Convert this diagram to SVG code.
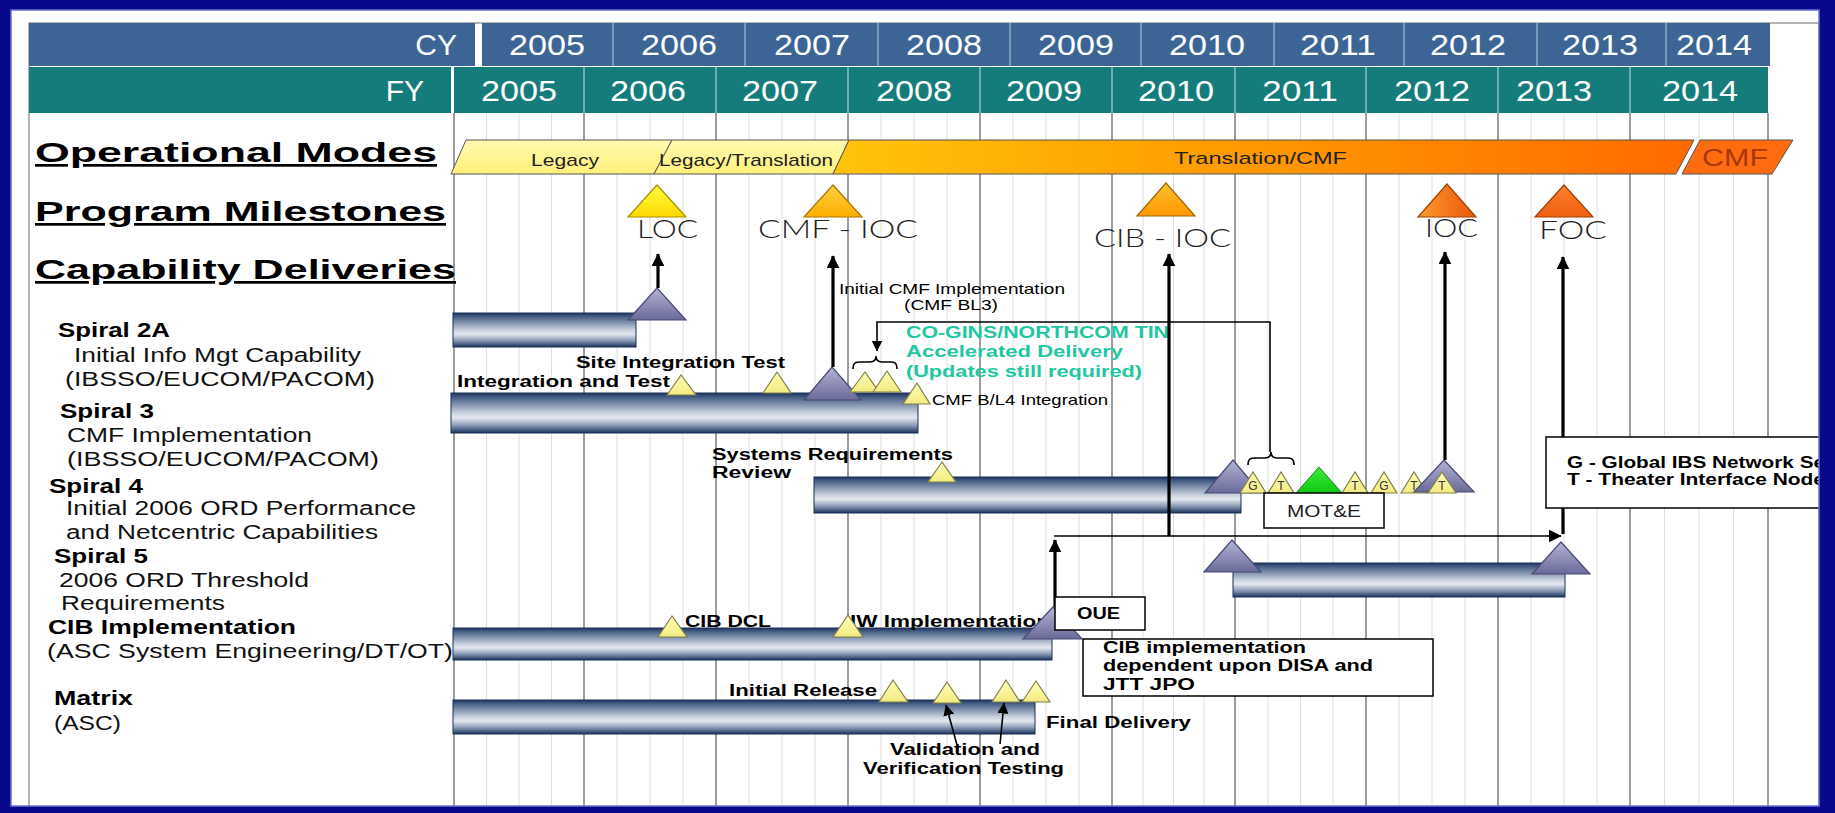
<svg xmlns="http://www.w3.org/2000/svg" width="1835" height="813" viewBox="0 0 1835 813">
<defs>
<style>
text{font-family:"Liberation Sans",Arial,Helvetica,sans-serif;}
.hl{fill:#fff;font-size:30px;text-anchor:end}
.yr{fill:#fff;font-size:30px;text-anchor:middle}
.main{font-size:27px;font-weight:bold;text-decoration:underline;fill:#000}
.spb{font-size:20px;font-weight:bold;fill:#000}
.spr{font-size:20px;fill:#111}
.band{font-size:17px;fill:#222}
.ms{font-family:Lato,"Liberation Sans",sans-serif;font-weight:300;font-size:26px;fill:#222}
.ab{font-size:16px;font-weight:bold;fill:#000}
.ar{font-size:15px;fill:#000}
.gr{font-size:16px;font-weight:bold;fill:#22C7A2}
.gl{font-size:12px;fill:#333;text-anchor:middle}
.minor{stroke:#dedede;stroke-width:1}
.major{stroke:#858585;stroke-width:1.6}
.bar{fill:url(#barG);stroke:#1B3056;stroke-width:1}
.pt{fill:url(#purG);stroke:#4B4B78;stroke-width:1.2}
.yt{fill:url(#yelG);stroke:#80804A;stroke-width:1.2}
.box{fill:#fff;stroke:#000;stroke-width:1.5}
.cn{stroke:#000;stroke-width:3.2;fill:none}
.cnt{stroke:#000;stroke-width:1.6;fill:none}
.sepc{stroke:#8FA9C8;stroke-width:1.5}
.sepf{stroke:#8CC0BE;stroke-width:1.5}
</style>
<linearGradient id="barG" x1="0" y1="0" x2="0" y2="1">
<stop offset="0" stop-color="#1D3561"/>
<stop offset="0.12" stop-color="#4A6288"/>
<stop offset="0.5" stop-color="#C9D1DE"/>
<stop offset="0.62" stop-color="#E4E8EF"/>
<stop offset="0.82" stop-color="#8596B2"/>
<stop offset="1" stop-color="#1B325C"/>
</linearGradient>
<linearGradient id="purG" x1="0" y1="0" x2="0" y2="1">
<stop offset="0" stop-color="#B4B4D4"/>
<stop offset="1" stop-color="#6A6A9A"/>
</linearGradient>
<linearGradient id="yelG" x1="0" y1="0" x2="0" y2="1">
<stop offset="0" stop-color="#FFFFB8"/>
<stop offset="1" stop-color="#F2EA80"/>
</linearGradient>
<linearGradient id="grnG" x1="0" y1="0" x2="0" y2="1">
<stop offset="0" stop-color="#3CEB3C"/>
<stop offset="1" stop-color="#10C810"/>
</linearGradient>
<linearGradient id="legG" x1="0" y1="0" x2="0" y2="1">
<stop offset="0" stop-color="#FFFBB0"/>
<stop offset="1" stop-color="#FFF07A"/>
</linearGradient>
<linearGradient id="tcG" x1="0" y1="0" x2="1" y2="0">
<stop offset="0" stop-color="#FFC40A"/>
<stop offset="0.45" stop-color="#FF9C00"/>
<stop offset="1" stop-color="#FF6A00"/>
</linearGradient>
<linearGradient id="m1" x1="0" y1="0" x2="0" y2="1"><stop offset="0" stop-color="#FFFF40"/><stop offset="1" stop-color="#FFD800"/></linearGradient>
<linearGradient id="m2" x1="0" y1="0" x2="0" y2="1"><stop offset="0" stop-color="#FFD040"/><stop offset="1" stop-color="#FFAE00"/></linearGradient>
<linearGradient id="m3" x1="0" y1="0" x2="0" y2="1"><stop offset="0" stop-color="#FFC030"/><stop offset="1" stop-color="#FF9800"/></linearGradient>
<linearGradient id="m4" x1="0" y1="0" x2="1" y2="0"><stop offset="0" stop-color="#FF9A30"/><stop offset="1" stop-color="#E8560A"/></linearGradient>
<linearGradient id="m5" x1="0" y1="0" x2="0" y2="1"><stop offset="0" stop-color="#FF8030"/><stop offset="1" stop-color="#F06010"/></linearGradient>
<marker id="ah" viewBox="0 0 10 10" refX="9.5" refY="5" markerWidth="13" markerHeight="13" markerUnits="userSpaceOnUse" orient="auto">
<path d="M0,0 L10,5 L0,10 z" fill="#000"/>
</marker>
<marker id="ahs" viewBox="0 0 10 10" refX="9.5" refY="5" markerWidth="11" markerHeight="11" markerUnits="userSpaceOnUse" orient="auto">
<path d="M0,0 L10,5 L0,10 z" fill="#000"/>
</marker>
</defs>

<!-- page and panel -->
<rect x="0" y="0" width="1835" height="813" fill="#fff"/>
<rect x="29" y="23" width="1790" height="785" fill="#fff" stroke="#6d6d6d" stroke-width="1"/>

<!-- year header -->
<g id="header">
<rect x="29" y="23" width="446" height="43" fill="#3C6596"/>
<rect x="482" y="23" width="1288" height="43" fill="#3C6596"/>
<g class="sepc">
<line x1="613" y1="23" x2="613" y2="66"/><line x1="745" y1="23" x2="745" y2="66"/><line x1="878" y1="23" x2="878" y2="66"/>
<line x1="1010" y1="23" x2="1010" y2="66"/><line x1="1141" y1="23" x2="1141" y2="66"/><line x1="1274" y1="23" x2="1274" y2="66"/>
<line x1="1404" y1="23" x2="1404" y2="66"/><line x1="1537" y1="23" x2="1537" y2="66"/><line x1="1666" y1="23" x2="1666" y2="66"/>
</g>
<rect x="29" y="67" width="422" height="46" fill="#147C7B"/>
<rect x="454" y="67" width="1314" height="46" fill="#147C7B"/>
<g class="sepf">
<line x1="584" y1="67" x2="584" y2="113"/><line x1="716" y1="67" x2="716" y2="113"/><line x1="848" y1="67" x2="848" y2="113"/>
<line x1="980" y1="67" x2="980" y2="113"/><line x1="1112" y1="67" x2="1112" y2="113"/><line x1="1235" y1="67" x2="1235" y2="113"/>
<line x1="1366" y1="67" x2="1366" y2="113"/><line x1="1498" y1="67" x2="1498" y2="113"/><line x1="1630" y1="67" x2="1630" y2="113"/>
</g>
<text class="hl" x="457" y="55">CY</text>
<text class="hl" x="424" y="101">FY</text>
<g class="yr">
<text x="547" y="55" textLength="76" lengthAdjust="spacingAndGlyphs">2005</text>
<text x="679" y="55" textLength="76" lengthAdjust="spacingAndGlyphs">2006</text>
<text x="812" y="55" textLength="76" lengthAdjust="spacingAndGlyphs">2007</text>
<text x="944" y="55" textLength="76" lengthAdjust="spacingAndGlyphs">2008</text>
<text x="1076" y="55" textLength="76" lengthAdjust="spacingAndGlyphs">2009</text>
<text x="1207" y="55" textLength="76" lengthAdjust="spacingAndGlyphs">2010</text>
<text x="1338" y="55" textLength="76" lengthAdjust="spacingAndGlyphs">2011</text>
<text x="1468" y="55" textLength="76" lengthAdjust="spacingAndGlyphs">2012</text>
<text x="1600" y="55" textLength="76" lengthAdjust="spacingAndGlyphs">2013</text>
<text x="1714" y="55" textLength="76" lengthAdjust="spacingAndGlyphs">2014</text>
<text x="519" y="101" textLength="76" lengthAdjust="spacingAndGlyphs">2005</text>
<text x="648" y="101" textLength="76" lengthAdjust="spacingAndGlyphs">2006</text>
<text x="780" y="101" textLength="76" lengthAdjust="spacingAndGlyphs">2007</text>
<text x="914" y="101" textLength="76" lengthAdjust="spacingAndGlyphs">2008</text>
<text x="1044" y="101" textLength="76" lengthAdjust="spacingAndGlyphs">2009</text>
<text x="1176" y="101" textLength="76" lengthAdjust="spacingAndGlyphs">2010</text>
<text x="1300" y="101" textLength="76" lengthAdjust="spacingAndGlyphs">2011</text>
<text x="1432" y="101" textLength="76" lengthAdjust="spacingAndGlyphs">2012</text>
<text x="1554" y="101" textLength="76" lengthAdjust="spacingAndGlyphs">2013</text>
<text x="1700" y="101" textLength="76" lengthAdjust="spacingAndGlyphs">2014</text>
</g>
</g>

<!-- quarter and year grid -->
<g id="grid">
<g class="minor">
<line x1="486.5" y1="113" x2="486.5" y2="808"/><line x1="519" y1="113" x2="519" y2="808"/><line x1="551.5" y1="113" x2="551.5" y2="808"/>
<line x1="617" y1="113" x2="617" y2="808"/><line x1="650" y1="113" x2="650" y2="808"/><line x1="683" y1="113" x2="683" y2="808"/>
<line x1="749" y1="113" x2="749" y2="808"/><line x1="782" y1="113" x2="782" y2="808"/><line x1="815" y1="113" x2="815" y2="808"/>
<line x1="881" y1="113" x2="881" y2="808"/><line x1="914" y1="113" x2="914" y2="808"/><line x1="947" y1="113" x2="947" y2="808"/>
<line x1="1013" y1="113" x2="1013" y2="808"/><line x1="1046" y1="113" x2="1046" y2="808"/><line x1="1079" y1="113" x2="1079" y2="808"/>
<line x1="1143" y1="113" x2="1143" y2="808"/><line x1="1173.5" y1="113" x2="1173.5" y2="808"/><line x1="1204" y1="113" x2="1204" y2="808"/>
<line x1="1268" y1="113" x2="1268" y2="808"/><line x1="1300.5" y1="113" x2="1300.5" y2="808"/><line x1="1333" y1="113" x2="1333" y2="808"/>
<line x1="1399" y1="113" x2="1399" y2="808"/><line x1="1432" y1="113" x2="1432" y2="808"/><line x1="1465" y1="113" x2="1465" y2="808"/>
<line x1="1531" y1="113" x2="1531" y2="808"/><line x1="1564" y1="113" x2="1564" y2="808"/><line x1="1597" y1="113" x2="1597" y2="808"/>
<line x1="1664.5" y1="113" x2="1664.5" y2="808"/><line x1="1699" y1="113" x2="1699" y2="808"/><line x1="1733.5" y1="113" x2="1733.5" y2="808"/>
</g>
<g class="major">
<line x1="454" y1="113" x2="454" y2="808"/><line x1="584" y1="113" x2="584" y2="808"/><line x1="716" y1="113" x2="716" y2="808"/>
<line x1="848" y1="113" x2="848" y2="808"/><line x1="980" y1="113" x2="980" y2="808"/><line x1="1112" y1="113" x2="1112" y2="808"/>
<line x1="1235" y1="113" x2="1235" y2="808"/><line x1="1366" y1="113" x2="1366" y2="808"/><line x1="1498" y1="113" x2="1498" y2="808"/>
<line x1="1630" y1="113" x2="1630" y2="808"/><line x1="1768" y1="113" x2="1768" y2="808"/>
</g>
</g>

<!-- row headings -->
<g id="row-labels">
<text class="main" x="35" y="162" textLength="402" lengthAdjust="spacingAndGlyphs">Operational Modes</text>
<text class="main" x="35" y="221" textLength="411" lengthAdjust="spacingAndGlyphs">Program Milestones</text>
<text class="main" x="35" y="279" textLength="421" lengthAdjust="spacingAndGlyphs">Capability Deliveries</text>
<text class="spb" x="58" y="337" textLength="112" lengthAdjust="spacingAndGlyphs">Spiral 2A</text>
<text class="spr" x="74" y="362" textLength="287" lengthAdjust="spacingAndGlyphs">Initial Info Mgt Capability</text>
<text class="spr" x="65" y="386" textLength="310" lengthAdjust="spacingAndGlyphs">(IBSSO/EUCOM/PACOM)</text>
<text class="spb" x="60" y="418" textLength="94" lengthAdjust="spacingAndGlyphs">Spiral 3</text>
<text class="spr" x="67" y="442" textLength="245" lengthAdjust="spacingAndGlyphs">CMF Implementation</text>
<text class="spr" x="67" y="466" textLength="312" lengthAdjust="spacingAndGlyphs">(IBSSO/EUCOM/PACOM)</text>
<text class="spb" x="49" y="493" textLength="94" lengthAdjust="spacingAndGlyphs">Spiral 4</text>
<text class="spr" x="66" y="515" textLength="350" lengthAdjust="spacingAndGlyphs">Initial 2006 ORD Performance</text>
<text class="spr" x="66" y="539" textLength="312" lengthAdjust="spacingAndGlyphs">and Netcentric Capabilities</text>
<text class="spb" x="54" y="563" textLength="94" lengthAdjust="spacingAndGlyphs">Spiral 5</text>
<text class="spr" x="59" y="587" textLength="250" lengthAdjust="spacingAndGlyphs">2006 ORD Threshold</text>
<text class="spr" x="61" y="610" textLength="164" lengthAdjust="spacingAndGlyphs">Requirements</text>
<text class="spb" x="48" y="634" textLength="248" lengthAdjust="spacingAndGlyphs">CIB Implementation</text>
<text class="spr" x="47" y="658" textLength="406" lengthAdjust="spacingAndGlyphs">(ASC System Engineering/DT/OT)</text>
<text class="spb" x="54" y="705" textLength="79" lengthAdjust="spacingAndGlyphs">Matrix</text>
<text class="spr" x="54" y="730" textLength="67" lengthAdjust="spacingAndGlyphs">(ASC)</text>
</g>

<!-- operational modes band -->
<g id="op-modes">
<polygon points="451,174 466,140 672,140 654,174" fill="url(#legG)" stroke="#555" stroke-width="1"/>
<polygon points="654,174 672,140 849,140 833,174" fill="url(#legG)" stroke="#555" stroke-width="1"/>
<polygon points="833,174 849,140 1694,140 1676,174" fill="url(#tcG)" stroke="#555" stroke-width="1"/>
<polygon points="1682,174 1700,140 1793,140 1772,174" fill="#FF6C10" stroke="#555" stroke-width="1"/>
<line x1="1679" y1="174" x2="1697" y2="140" stroke="#fff" stroke-width="2" stroke-dasharray="2 2"/>
<text class="band" x="531" y="166" textLength="68" lengthAdjust="spacingAndGlyphs">Legacy</text>
<text class="band" x="659" y="166" textLength="174" lengthAdjust="spacingAndGlyphs">Legacy/Translation</text>
<text class="band" x="1174" y="164" textLength="173" lengthAdjust="spacingAndGlyphs">Translation/CMF</text>
<text x="1702" y="166" font-size="24" fill="#A8380C" textLength="66" lengthAdjust="spacingAndGlyphs">CMF</text>
</g>

<!-- program milestones -->
<g id="ms-loc">
<polygon points="628,217 657,185 686,217" fill="url(#m1)" stroke="#A89000" stroke-width="1.2"/>
<text class="ms" x="637" y="238" textLength="61" lengthAdjust="spacingAndGlyphs">LOC</text>
</g>
<g id="ms-cmf-ioc">
<polygon points="804,217 833,185 862,217" fill="url(#m2)" stroke="#A87800" stroke-width="1.2"/>
<text class="ms" x="758" y="238" textLength="160" lengthAdjust="spacingAndGlyphs">CMF - IOC</text>
</g>
<g id="ms-cib-ioc">
<polygon points="1137,216 1166,183 1195,216" fill="url(#m3)" stroke="#A06800" stroke-width="1.2"/>
<text class="ms" x="1094" y="247" textLength="137" lengthAdjust="spacingAndGlyphs">CIB - IOC</text>
</g>
<g id="ms-ioc">
<polygon points="1418,217 1447,184 1476,217" fill="url(#m4)" stroke="#A04000" stroke-width="1.2"/>
<text class="ms" x="1425" y="237" textLength="53" lengthAdjust="spacingAndGlyphs">IOC</text>
</g>
<g id="ms-foc">
<polygon points="1535,217 1564,185 1593,217" fill="url(#m5)" stroke="#A04000" stroke-width="1.2"/>
<text class="ms" x="1539" y="239" textLength="68" lengthAdjust="spacingAndGlyphs">FOC</text>
</g>

<!-- Spiral 2A -->
<g id="spiral-2a">
<rect class="bar" x="453" y="313" width="183" height="34"/>
<polygon class="pt" points="628,320 657,288 686,320"/>
</g>

<!-- Spiral 3 -->
<g id="spiral-3">
<rect class="bar" x="451" y="393" width="467" height="40"/>
<text class="ab" x="576" y="368" textLength="209" lengthAdjust="spacingAndGlyphs">Site Integration Test</text>
<text class="ab" x="457" y="387" textLength="213" lengthAdjust="spacingAndGlyphs">Integration and Test</text>
<polygon class="yt" points="667,395 681,375 696,395"/>
<polygon class="yt" points="763,393 777,372 791,393"/>
<polygon class="pt" points="804,400 832,367 861,400"/>
<polygon class="yt" points="850,392 865,372 879,392"/>
<polygon class="yt" points="873,392 887,371 901,392"/>
<polygon class="yt" points="903,404 917,383 930,404"/>
<text class="ar" x="839" y="294" textLength="226" lengthAdjust="spacingAndGlyphs">Initial CMF Implementation</text>
<text class="ar" x="904" y="310" textLength="94" lengthAdjust="spacingAndGlyphs">(CMF BL3)</text>
<text class="ar" x="932" y="405" textLength="176" lengthAdjust="spacingAndGlyphs">CMF B/L4 Integration</text>
<text class="gr" x="906" y="338" textLength="263" lengthAdjust="spacingAndGlyphs">CO-GINS/NORTHCOM TIN</text>
<text class="gr" x="906" y="357" textLength="217" lengthAdjust="spacingAndGlyphs">Accelerated Delivery</text>
<text class="gr" x="906" y="377" textLength="236" lengthAdjust="spacingAndGlyphs">(Updates still required)</text>
</g>

<!-- Spiral 4 -->
<g id="spiral-4">
<rect class="bar" x="814" y="477" width="427" height="36"/>
<text class="ab" x="712" y="460" textLength="241" lengthAdjust="spacingAndGlyphs">Systems Requirements</text>
<text class="ab" x="712" y="478" textLength="79" lengthAdjust="spacingAndGlyphs">Review</text>
<polygon class="yt" points="928,482 942,462 956,482"/>
<polygon class="pt" points="1205,493 1233,460 1261,493"/>
<polygon class="yt" points="1240,493 1253,472 1266,493"/><text class="gl" x="1253" y="490">G</text>
<polygon class="yt" points="1268,493 1281,472 1294,493"/><text class="gl" x="1281" y="490">T</text>
<polygon points="1296,493 1319,467 1342,493" fill="url(#grnG)" stroke="#208020" stroke-width="1"/>
<polygon class="yt" points="1342,493 1355,472 1368,493"/><text class="gl" x="1355" y="490">T</text>
<polygon class="yt" points="1371,493 1384,472 1397,493"/><text class="gl" x="1384" y="490">G</text>
<polygon class="yt" points="1401,493 1414,472 1427,493"/><text class="gl" x="1414" y="490">T</text>
<polygon class="pt" points="1414,492 1444,460 1474,492"/>
<polygon class="yt" points="1428,493 1442,472 1456,493"/><text class="gl" x="1442" y="490">T</text>
</g>

<!-- Spiral 5 -->
<g id="spiral-5">
<rect class="bar" x="1233" y="563" width="332" height="34"/>
<polygon class="pt" points="1204,572 1232,540 1261,572"/>
<polygon class="pt" points="1532,574 1561,542 1590,574"/>
</g>

<!-- CIB implementation -->
<g id="cib">
<rect class="bar" x="453" y="628" width="599" height="32"/>
<text class="ab" x="685" y="627" textLength="86" lengthAdjust="spacingAndGlyphs">CIB DCL</text>
<text class="ab" x="850" y="627" textLength="200" lengthAdjust="spacingAndGlyphs">IW Implementation</text>
<polygon class="yt" points="658,637 672,616 687,637"/>
<polygon class="yt" points="833,637 848,615 863,637"/>
<polygon class="pt" points="1023,639 1053,607 1082,639"/>
</g>

<!-- Matrix -->
<g id="matrix">
<rect class="bar" x="453" y="700" width="582" height="34"/>
<text class="ab" x="729" y="696" textLength="148" lengthAdjust="spacingAndGlyphs">Initial Release</text>
<text class="ab" x="1046" y="728" textLength="145" lengthAdjust="spacingAndGlyphs">Final Delivery</text>
<text class="ab" x="890" y="755" textLength="150" lengthAdjust="spacingAndGlyphs">Validation and</text>
<text class="ab" x="863" y="774" textLength="201" lengthAdjust="spacingAndGlyphs">Verification Testing</text>
<polygon class="yt" points="879,702 893,680 908,702"/>
<polygon class="yt" points="933,703 947,682 961,703"/>
<polygon class="yt" points="992,702 1006,680 1020,702"/>
<polygon class="yt" points="1022,702 1036,681 1050,702"/>
</g>

<!-- connectors -->
<g id="connectors">
<path class="cn" d="M658,288 V254" marker-end="url(#ah)"/>
<path class="cn" d="M833,367 V256" marker-end="url(#ah)"/>
<path class="cn" d="M1169,536 V254" marker-end="url(#ah)"/>
<path class="cn" d="M1445,460 V252" marker-end="url(#ah)"/>
<path class="cn" d="M1563,534 V257" marker-end="url(#ah)"/>
<path class="cnt" d="M1054,536 H1561" stroke-width="2.4" marker-end="url(#ah)"/>
<path class="cn" d="M1055,607 V540" marker-end="url(#ah)"/>
<path class="cnt" d="M1270,452 V322 H877 V351" marker-end="url(#ahs)"/>
<path class="cnt" d="M853,369 C853,363 855,362 861,362 L870,362 C874,362 876,360 876,356 C876,360 878,362 882,362 L890,362 C895,362 897,363 897,369"/>
<path class="cnt" d="M1248,465 C1248,459 1250,458 1256,458 L1265,458 C1269,458 1271,456 1271,452 C1271,456 1273,458 1277,458 L1286,458 C1292,458 1294,459 1294,465"/>
<path class="cnt" d="M957,745 L946,705" stroke-width="2" marker-end="url(#ahs)"/>
<path class="cnt" d="M1000,744 L1004,703" stroke-width="2" marker-end="url(#ahs)"/>
</g>

<!-- callout boxes -->
<g id="mot-e">
<rect class="box" x="1264" y="493" width="120" height="35"/>
<text x="1287" y="517" font-size="16" fill="#222" textLength="74" lengthAdjust="spacingAndGlyphs">MOT&amp;E</text>
</g>
<g id="oue">
<rect class="box" x="1055" y="597" width="90" height="33"/>
<text class="ab" x="1077" y="619" font-size="17" textLength="43" lengthAdjust="spacingAndGlyphs">OUE</text>
</g>
<g id="cib-note">
<rect class="box" x="1083" y="639" width="350" height="57"/>
<text class="ab" x="1103" y="653" textLength="203" lengthAdjust="spacingAndGlyphs">CIB implementation</text>
<text class="ab" x="1103" y="671" textLength="270" lengthAdjust="spacingAndGlyphs">dependent upon DISA and</text>
<text class="ab" x="1103" y="690" textLength="92" lengthAdjust="spacingAndGlyphs">JTT JPO</text>
</g>
<g id="legend">
<rect class="box" x="1546" y="437" width="300" height="71"/>
<text class="ab" x="1567" y="468" textLength="258" lengthAdjust="spacingAndGlyphs">G - Global IBS Network Se</text>
<text class="ab" x="1567" y="485" textLength="258" lengthAdjust="spacingAndGlyphs">T - Theater Interface Node</text>
</g>

<!-- outer frame -->
<path d="M0,0 H1835 V813 H0 Z M11,10 V806 H1819 V10 Z" fill="#08088A" fill-rule="evenodd"/>
<rect x="11" y="10" width="1808" height="796" fill="none" stroke="#6E6ED8" stroke-width="1.5"/>
</svg>
